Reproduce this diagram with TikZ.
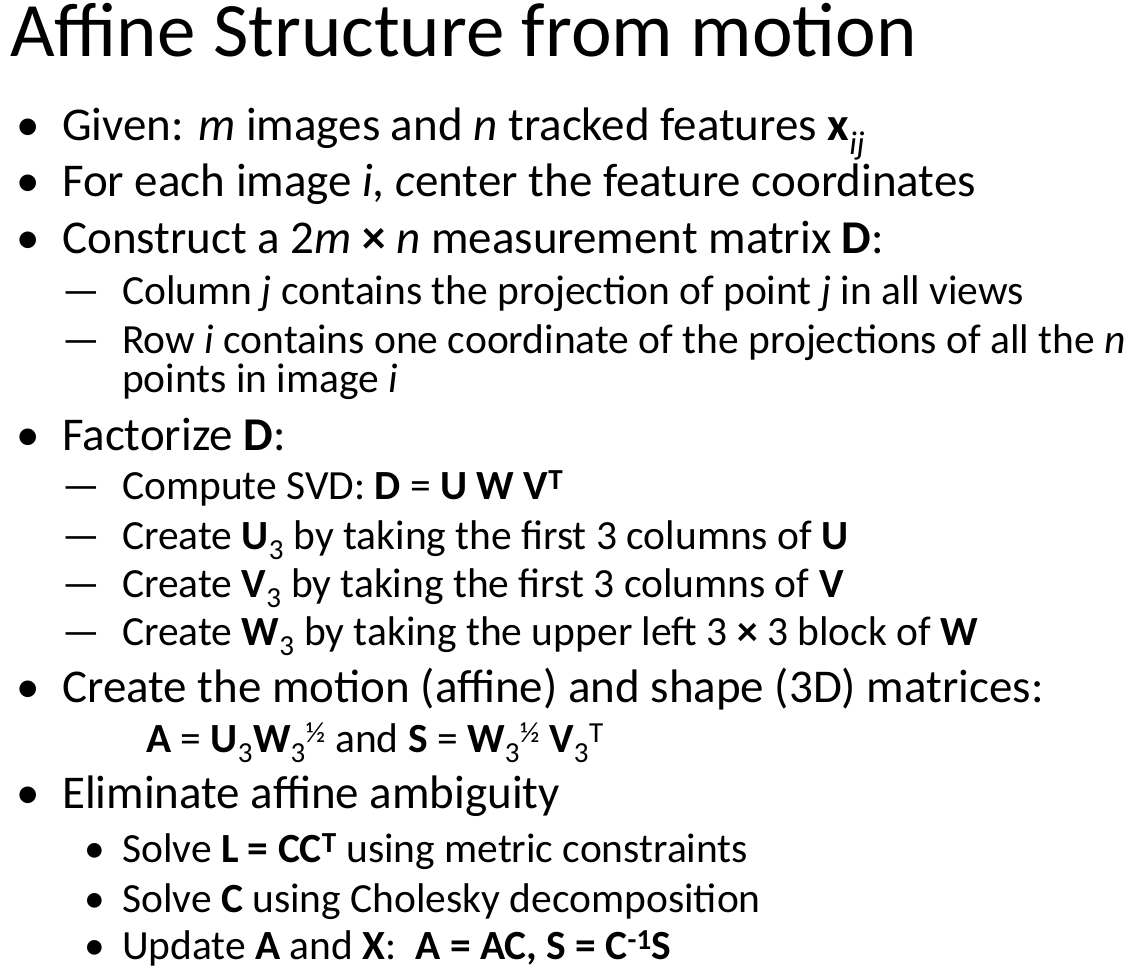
\documentclass[tikz,border=0pt]{standalone}
\usepackage{fontspec}
\setmainfont{Carlito}
\begin{document}
\begin{tikzpicture}[x=1pt,y=-1pt,
  every node/.style={anchor=base west,inner sep=0pt},
  lone/.style={font=\fontsize{47}{49}\selectfont},
  ltwo/.style={font=\fontsize{41.5}{43}\selectfont},
  ttl/.style={font=\fontsize{77}{79}\selectfont}]
\useasboundingbox (0,0) rectangle (1127,975);
\newcommand\sbs[1]{\textsubscript{#1}}
\node[ttl] (t) at (10,56) {Affine Structure from motion};
\def\bul{\textbullet}
\foreach \y/\n in {140/b1,196/b2,253/b3,450/b4,702/b5,808/b6}
  \node[lone] (\n d) at (16,\y) {\bul};
\node[lone] (b1) at (62,140) {Given: \textit{m} images and \textit{n} tracked features \textbf{x}\sbs{\textit{ij}}};
\node[lone] (b2) at (62,196) {For each image \textit{i, c}enter the feature coordinates};
\node[lone] (b3) at (62,253) {Construct a 2\textit{m} \textbf{×} \textit{n} measurement matrix \textbf{D}:};
\foreach \y/\n in {304/s1,353/s2,499/s3,549/s4,597/s5,645/s6}
  \node[ltwo] (\n d) at (62,\y) {—};
\node[ltwo] (s1) at (122,304) {Column \textit{j} contains the projection of point \textit{j} in all views};
\node[ltwo] (s2) at (122,353) {Row \textit{i} contains one coordinate of the projections of all the \textit{n}};
\node[ltwo] (s2b) at (122,392) {points in image \textit{i}};
\node[lone] (b4) at (62,450) {Factorize \textbf{D}:};
\node[ltwo] (s3) at (122,499) {Compute SVD: \textbf{D} = \textbf{U} \textbf{W} \textbf{V}\textsuperscript{\textbf{T}}};
\node[ltwo] (s4) at (122,549) {Create \textbf{U}\sbs{3} by taking the first 3 columns of \textbf{U}};
\node[ltwo] (s5) at (122,597) {Create \textbf{V}\sbs{3} by taking the first 3 columns of \textbf{V}};
\node[ltwo] (s6) at (122,645) {Create \textbf{W}\sbs{3} by taking the upper left 3 \textbf{×} 3 block of \textbf{W}};
\node[lone] (b5) at (62,702) {Create the motion (affine) and shape (3D) matrices:};
\node[ltwo] (eq) at (146,752) {\textbf{A} = \textbf{U}\sbs{3}\textbf{W}\sbs{3}\textsuperscript{½} and \textbf{S} = \textbf{W}\sbs{3}\textsuperscript{½} \textbf{V}\sbs{3}\textsuperscript{T}};
\node[lone] (b6) at (62,808) {Eliminate affine ambiguity};
\foreach \y/\n in {862/t1,912/t2,959/t3}
  \node[ltwo] (\n d) at (84,\y) {\bul};
\node[ltwo] (t1) at (122,862) {Solve \textbf{L = CC\textsuperscript{T}} using metric constraints};
\node[ltwo] (t2) at (122,912) {Solve \textbf{C} using Cholesky decomposition};
\node[ltwo] (t3) at (122,959) {Update \textbf{A} and \textbf{X}:\ \ \textbf{A = AC, S = C\textsuperscript{-1}S}};
\end{tikzpicture}
\end{document}
